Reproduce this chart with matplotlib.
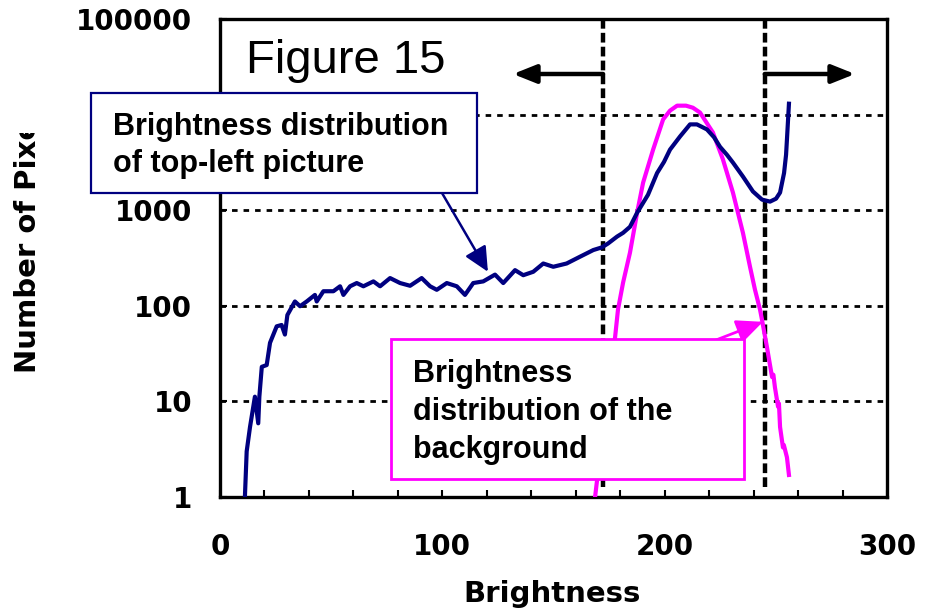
import matplotlib
matplotlib.use("Agg")
import matplotlib.pyplot as plt
from matplotlib.patches import Rectangle
from matplotlib.transforms import Bbox, TransformedBbox
from matplotlib.ticker import NullLocator, MultipleLocator

plt.rcParams["lines.scale_dashes"] = False

# ---- data -------------------------------------------------------------
# brightness histogram of the top-left picture
pic_x = [11.2, 12.0, 13.5, 15.7, 17.2, 17.7, 18.8, 21.0, 22.5, 25.5, 27.7, 29.2,
         30.3, 33.7, 36.0, 39.0, 42.7, 43.5, 46.5, 51.0, 54.0, 55.5, 58.5, 61.5,
         64.5, 69.0, 72.0, 76.5, 81.0, 85.5, 90.7, 94.5, 97.5, 102.0, 106.5,
         110.2, 113.9, 118.4, 123.7, 127.4, 132.7, 136.4, 140.9, 145.4, 149.9,
         155.9, 161.9, 167.9, 171.7, 174.5, 178.6, 181.3, 184.4, 187.6, 192.5,
         196.6, 199.7, 202.4, 206.9, 211.4, 214.5, 219.0, 222.2, 224.9, 228.0,
         230.7, 235.2, 239.7, 243.8, 247.4, 250.1, 251.9, 253.7, 254.6, 255.0,
         255.9]
pic_y = [1, 3.0, 5.4, 11.2, 5.9, 11.2, 23, 24, 41, 61, 63, 50,
         80, 111, 99, 111, 130, 111, 142, 142, 160, 130, 160, 173,
         160, 180, 160, 195, 173, 162, 195, 160, 147, 173, 160,
         130, 173, 180, 212, 173, 236, 209, 227, 277, 256,
         277, 326, 383, 408, 448, 530, 580, 670, 940, 1450,
         2450, 3200, 4300, 5900, 7900, 7900, 7000, 5800, 4600, 3800,
         3150, 2250, 1570, 1290, 1230, 1320, 1530, 2450, 3800, 5500,
         13000]

# brightness histogram of the background
bg_x = [168.7, 169.6, 177.7, 179.0, 181.3, 184.4, 187.6, 190.3, 194.8, 199.3,
        202.4, 205.6, 209.6, 212.7, 215.9, 221.7, 226.2, 230.7, 235.2, 238.4,
        240.6, 242.9, 243.8, 246.0, 248.3, 248.9, 249.6, 251.0, 251.4, 251.9,
        253.2, 253.6, 255.0, 255.9]
bg_y = [1, 1.5, 47, 91, 175, 360, 940, 1940, 4300, 8900,
        11000, 12400, 12400, 11800, 10500, 6500, 3400, 1530, 580, 255,
        148, 91, 71, 37, 18, 19, 14, 8.8, 9.5, 5.4,
        3.3, 3.5, 2.6, 1.7]

thresholds = [172.3, 245.0]
y_ticks = [1, 10, 100, 1000, 10000, 100000]
# the 10000 label sits under the callout box, so it is left blank
y_tick_labels = ["1", "10", "100", "1000", "", "100000"]
x_ticks = [0, 100, 200, 300]
x_tick_labels = ["0", "100", "200", "300"]

NAVY = "#000080"
MAGENTA = "#FF00FF"

# ---- figure -----------------------------------------------------------
W, H = 928, 613
fig = plt.figure(figsize=(W / 100, H / 100), dpi=100)


def fx(px):
    return px / W


def fy(py):
    return (H - py) / H


ax = fig.add_axes([fx(220), fy(497), (887 - 220) / W, (497 - 19) / H])
ax.set_xlim(0, 300)
ax.set_yscale("log")
ax.set_ylim(1, 1e5)

ax.set_xticks(x_ticks, x_tick_labels)
ax.xaxis.set_minor_locator(MultipleLocator(20))
ax.set_yticks(y_ticks, y_tick_labels)
ax.yaxis.set_minor_locator(NullLocator())

tick_font = dict(family="DejaVu Sans", weight="bold", size=20)
for lab in ax.get_xticklabels() + ax.get_yticklabels():
    lab.set_fontproperties(tick_font)
ax.tick_params(axis="both", which="both", direction="in", length=5, width=1.5,
               color="black")
ax.tick_params(axis="x", which="major", pad=26)
ax.tick_params(axis="y", which="major", pad=20)

for sp in ax.spines.values():
    sp.set_linewidth(2.4)
    sp.set_color("black")

ax.grid(axis="y", which="major", color="black", lw=2.0,
        linestyle=(0, (4.0, 4.3)), zorder=1)

# threshold lines and direction arrows
for t in thresholds:
    ax.axvline(t, ymin=10 / 478, ymax=(497 - 15) / 478, color="black", lw=3.2,
               linestyle=(0, (7, 3)), clip_on=False, zorder=3)

arrow_y = (497 - 74) / 478
head = dict(arrowstyle="-|>,head_length=0.7,head_width=0.28", color="black",
            lw=3.2, shrinkA=0, shrinkB=0, mutation_scale=20)
ax.annotate("", xy=(131.8, arrow_y), xytext=(thresholds[0], arrow_y),
            xycoords=("data", "axes fraction"), textcoords=("data", "axes fraction"),
            arrowprops=head, annotation_clip=False)
ax.annotate("", xy=(285.6, arrow_y), xytext=(thresholds[1], arrow_y),
            xycoords=("data", "axes fraction"), textcoords=("data", "axes fraction"),
            arrowprops=head, annotation_clip=False)

# histogram curves
ax.plot(bg_x, bg_y, color=MAGENTA, lw=3.0, zorder=4, solid_joinstyle="round")
ax.plot(pic_x, pic_y, color=NAVY, lw=3.0, zorder=4, solid_joinstyle="round")

# title inside the plot
fig.text(fx(246), fy(73), "Figure 15", family="Liberation Sans", size=34,
         ha="left", va="baseline", zorder=5)

# callout boxes
box_font = dict(family="Liberation Sans", weight="bold", size=22)
fig.patches.append(Rectangle((fx(91), fy(193)), (477 - 91) / W, (193 - 93) / H,
                             transform=fig.transFigure, facecolor="white",
                             edgecolor=NAVY, lw=1.6, zorder=6))
fig.text(fx(113), fy(135), "Brightness distribution", ha="left", va="baseline",
         zorder=7, **box_font)
fig.text(fx(113), fy(172), "of top-left picture", ha="left", va="baseline",
         zorder=7, **box_font)

fig.patches.append(Rectangle((fx(391), fy(479)), (744 - 391) / W, (479 - 339) / H,
                             transform=fig.transFigure, facecolor="white",
                             edgecolor=MAGENTA, lw=2.0, zorder=6))
for line, base in zip(["Brightness", "distribution of the", "background"],
                      [382, 420, 458]):
    fig.text(fx(413), fy(base), line, ha="left", va="baseline", zorder=7,
             **box_font)

# callout pointers
ax.annotate("", xy=(120.5, 227), xycoords="data",
            xytext=(fx(442), fy(193)), textcoords="figure fraction",
            arrowprops=dict(arrowstyle="-|>,head_length=0.75,head_width=0.36",
                            color=NAVY, lw=1.8, shrinkA=0, shrinkB=0,
                            mutation_scale=20), zorder=8, annotation_clip=False)
ax.annotate("", xy=(244.2, 68), xycoords="data",
            xytext=(fx(716), fy(340)), textcoords="figure fraction",
            arrowprops=dict(arrowstyle="-|>,head_length=0.8,head_width=0.36",
                            color=MAGENTA, lw=2.0, shrinkA=0, shrinkB=0,
                            mutation_scale=20), zorder=8, annotation_clip=False)

# axis titles
fig.text(fx(552), fy(594), "Brightness", family="DejaVu Sans", weight="bold",
         size=21, ha="center", va="center")
ylab = fig.text(fx(28), fy(373), "Number of Pixels", family="DejaVu Sans",
                weight="bold", size=21, rotation=90, ha="center", va="bottom")
ylab.set_clip_box(TransformedBbox(Bbox([[0, 0], [1, fy(133)]]), fig.transFigure))
ylab.set_clip_on(True)

fig.savefig("out.png", dpi=100, facecolor="white")
